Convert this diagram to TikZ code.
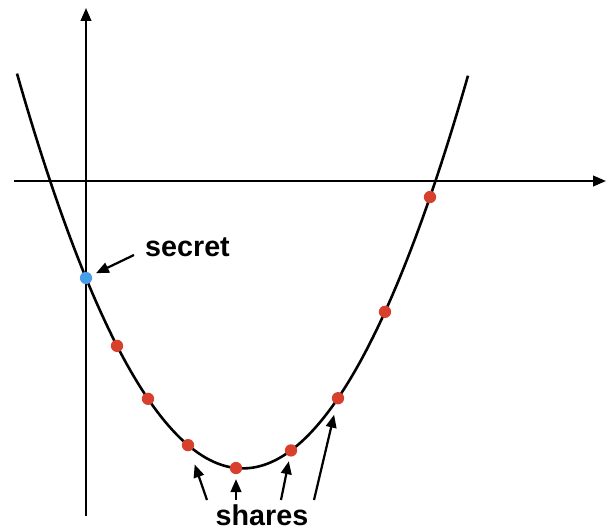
\documentclass[tikz,border=0pt]{standalone}
\usepackage{fontspec}
\setmainfont{Liberation Sans}
\usepackage{xcolor}
\usetikzlibrary{arrows.meta, positioning, calc}

\definecolor{shareRed}{RGB}{214,64,44}
\definecolor{secretBlue}{RGB}{72,158,232}

\begin{document}
\begin{tikzpicture}[
    x=0.03cm, y=-0.03cm,
    axis/.style={line width=1.7pt, -{Triangle[length=11pt, width=9pt]}},
    curve/.style={line width=2.2pt},
    dot/.style={circle, inner sep=0pt, minimum size=10.5pt},
    label/.style={font=\fontsize{24.5}{28}\selectfont\bfseries, inner sep=0pt},
    arrow/.style={line width=1.9pt, -{Triangle[length=11pt, width=9pt]}}
]
    \useasboundingbox (0,0) rectangle (609,532);

    % Axes
    \coordinate (xstart) at (14,181);
    \coordinate (xend) at (606,181);
    \coordinate (ystart) at (86,516);
    \coordinate (yend) at (86,8);
    \draw[axis] (xstart) -- (xend);
    \draw[axis] (ystart) -- (yend);

    % Polynomial
    \draw[curve] plot[domain=17:468, samples=120] (\x, {468.4 - (0.08799*(\x-242.8))^2});

    % Secret and shares
    \node[dot, fill=secretBlue] (secret) at (86,278) {};
    \foreach \px/\name in {117/s1, 148/s2, 188/s3, 236/s4, 291/s5, 338/s6, 385/s7, 430/s8}
        \node[dot, fill=shareRed] (\name) at (\px, {468.4 - (0.08799*(\px-242.8))^2}) {};

    % Labels
    \node[label, anchor=base west] (secretlbl) at (145,256) {secret};
    \node[label, anchor=base] (shareslbl) at (262,525) {shares};

    % Pointers
    \coordinate (sectail) at (134,255);
    \draw[arrow, shorten >=4pt] (sectail) -- (secret);
    \coordinate (t3) at (207,500);
    \coordinate (t4) at (236,500);
    \coordinate (t5) at (281,500);
    \coordinate (t6) at (314,500);
    \draw[arrow, shorten >=12pt] (t3) -- (s3);
    \draw[arrow, shorten >=4pt] (t4) -- (s4);
    \draw[arrow, shorten >=4pt] (t5) -- (s5);
    \draw[arrow, shorten >=9pt] (t6) -- (s6);
\end{tikzpicture}
\end{document}
